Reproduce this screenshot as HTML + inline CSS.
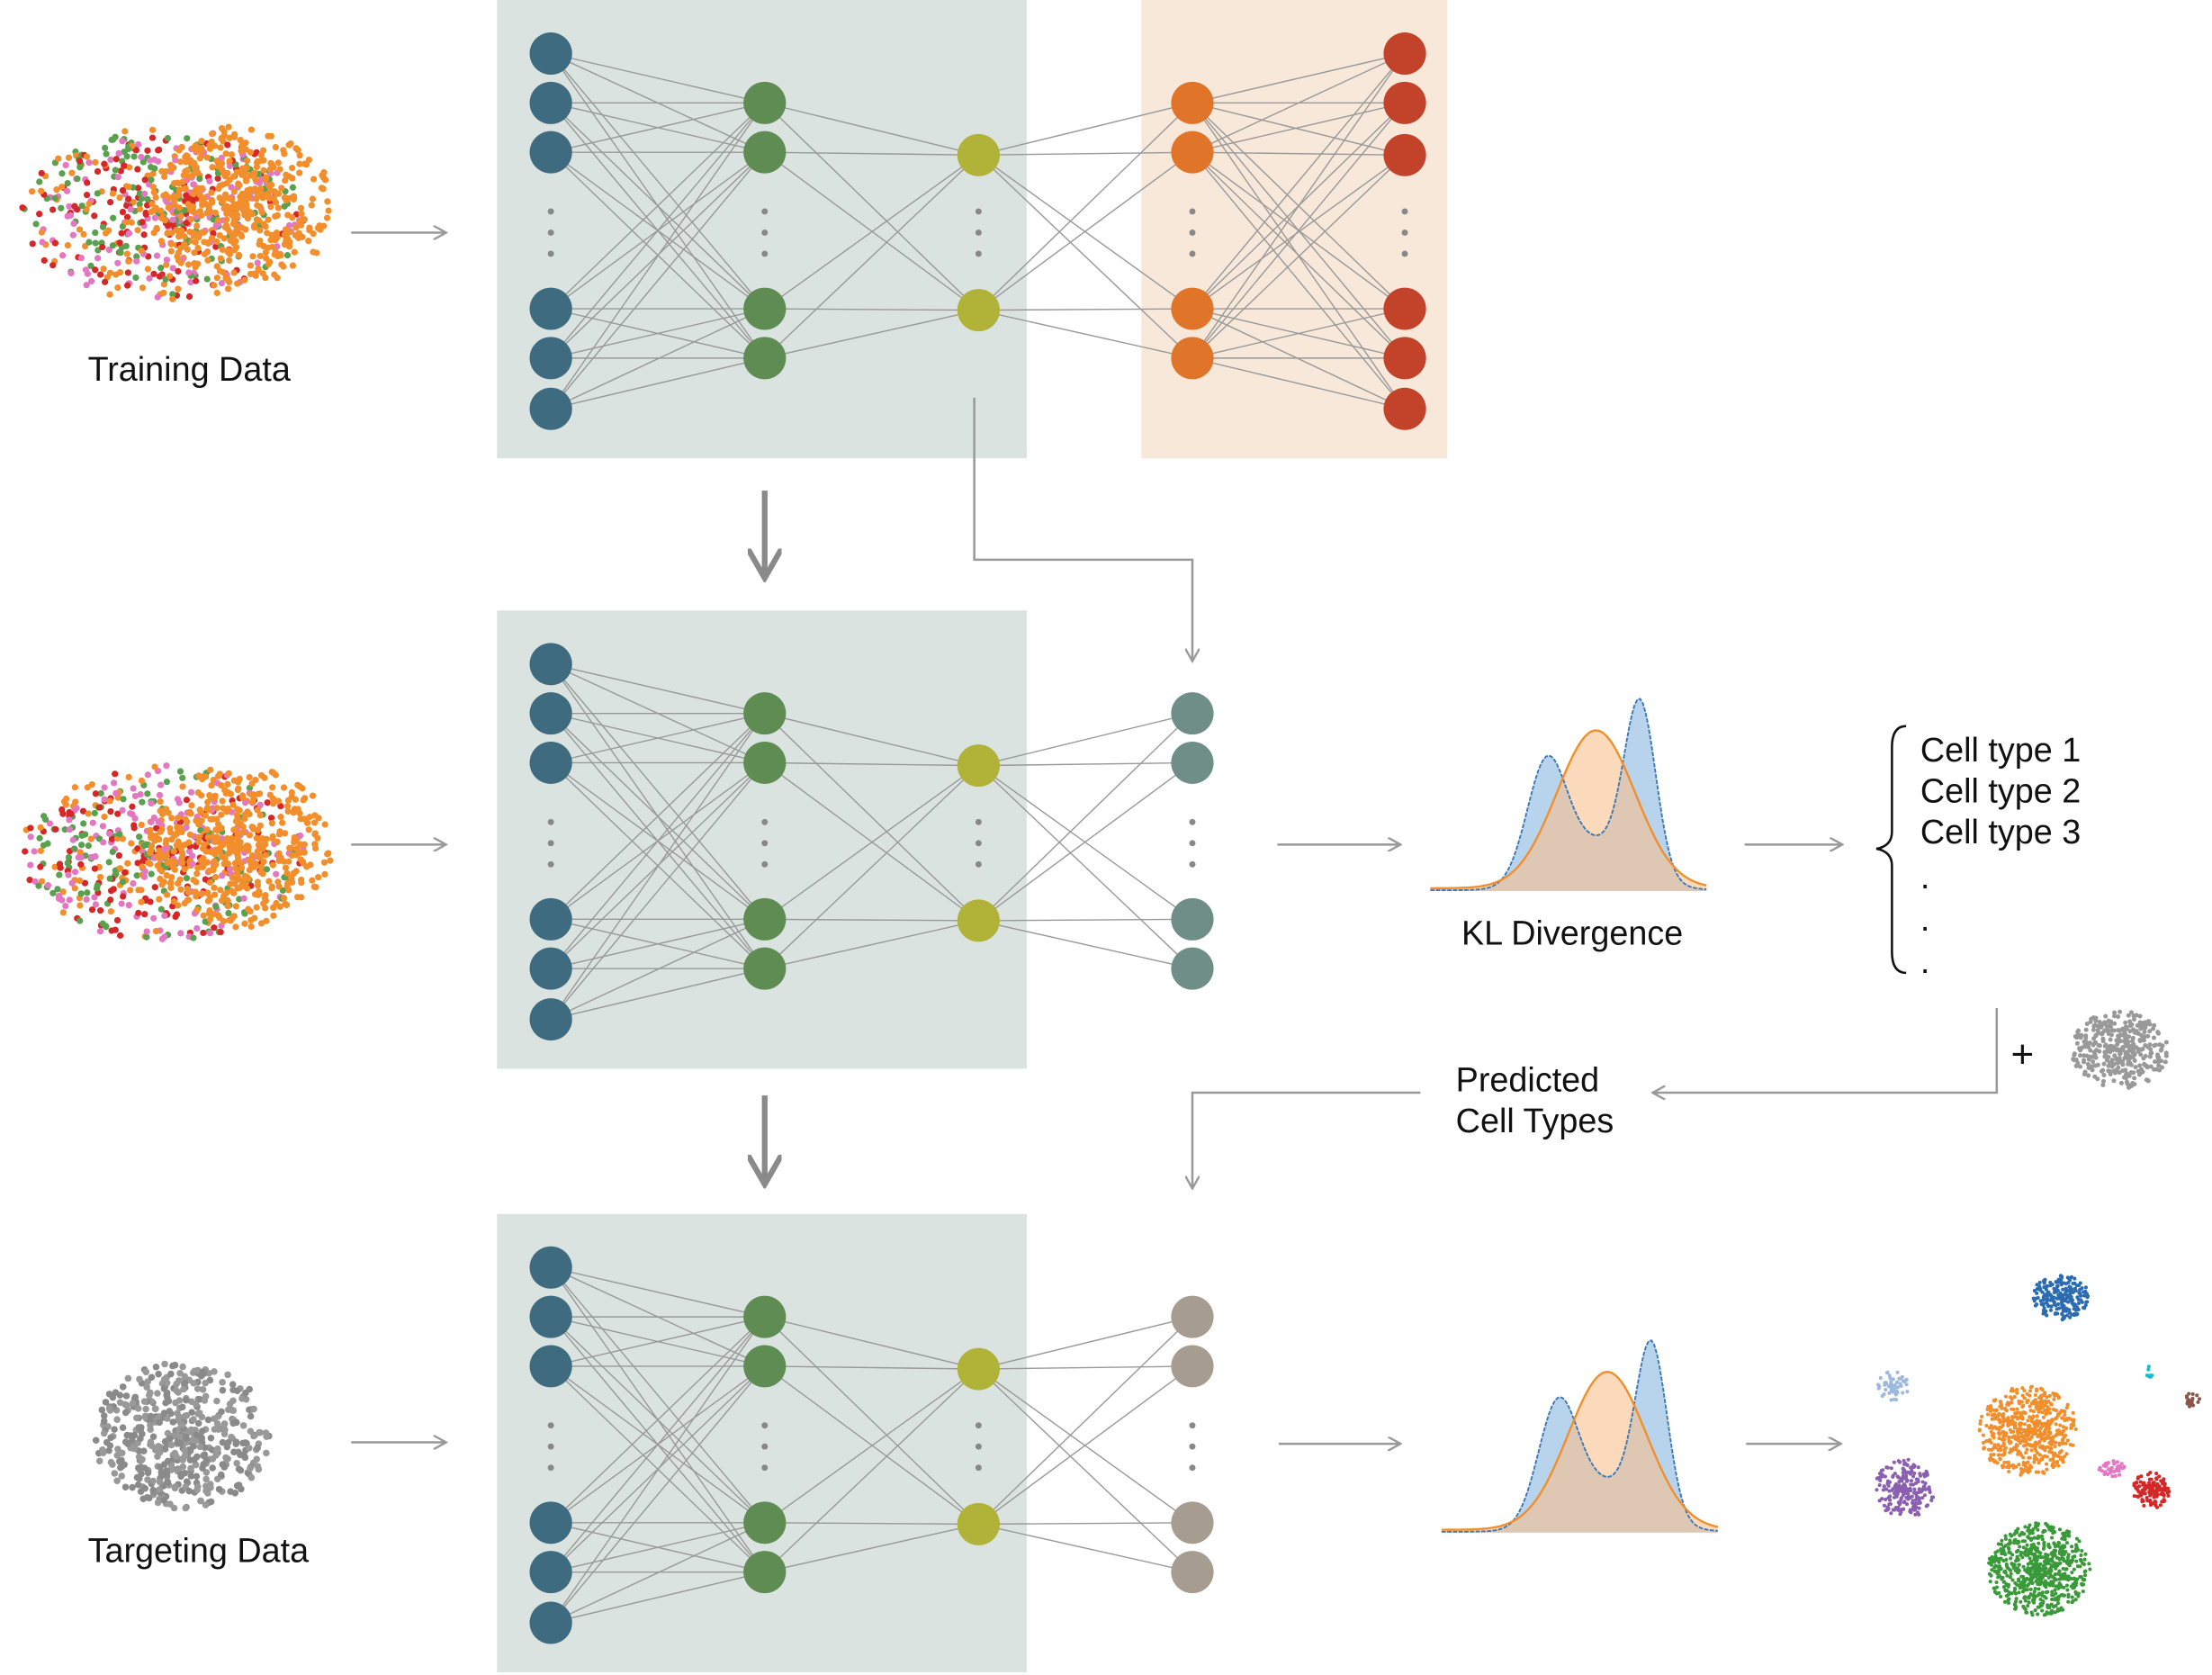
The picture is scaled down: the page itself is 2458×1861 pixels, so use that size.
<!DOCTYPE html>
<html><head><meta charset="utf-8"><style>html,body{margin:0;padding:0;background:#fff}svg{display:block}</style></head>
<body>
<svg id="s" xmlns="http://www.w3.org/2000/svg" width="2458" height="1861" viewBox="0 0 1562 1188" preserveAspectRatio="none" font-family="Liberation Sans, sans-serif">
<defs>
<marker id="ah" markerWidth="10" markerHeight="10" refX="9" refY="5" orient="auto" markerUnits="userSpaceOnUse"><path d="M0,0 L9,5 L0,10" fill="none" stroke="#999" stroke-width="1.5"/></marker>
<marker id="bh" markerWidth="24" markerHeight="24" refX="21" refY="12" orient="auto" markerUnits="userSpaceOnUse"><path d="M0,0 L21,12 L0,24" fill="none" stroke="#8a8a8a" stroke-width="4"/></marker>
</defs>
<rect x="351" y="0" width="374" height="325" fill="#dae3df"/>
<rect x="806" y="0" width="216" height="325" fill="#f7e8da"/>
<rect x="351" y="433" width="374" height="325" fill="#dae3df"/>
<rect x="351" y="861" width="374" height="325" fill="#dae3df"/>
<g id="net"></g>
<g id="pts"></g>
<g fill="none" stroke="#999" stroke-width="1.6">
<line x1="248" y1="165" x2="315" y2="165" marker-end="url(#ah)"/>
<line x1="248" y1="599" x2="315" y2="599" marker-end="url(#ah)"/>
<line x1="248" y1="1023" x2="315" y2="1023" marker-end="url(#ah)"/>
<line x1="902" y1="599" x2="989" y2="599" marker-end="url(#ah)"/>
<line x1="1232" y1="599" x2="1301" y2="599" marker-end="url(#ah)"/>
<line x1="903" y1="1024" x2="989" y2="1024" marker-end="url(#ah)"/>
<line x1="1233" y1="1024" x2="1300" y2="1024" marker-end="url(#ah)"/>
<polyline points="688,282 688,397 842,397 842,469" marker-end="url(#ah)"/>
<polyline points="1410,715 1410,775 1167,775" marker-end="url(#ah)"/>
<polyline points="1003,775 842,775 842,843" marker-end="url(#ah)"/>
</g>
<g stroke="#8a8a8a" stroke-width="4" fill="none">
<line x1="540" y1="348" x2="540" y2="410" marker-end="url(#bh)"/>
<line x1="540" y1="777" x2="540" y2="840" marker-end="url(#bh)"/>
</g>
<g id="kl"></g>
<g font-size="24" fill="#111">
<text x="62" y="270">Training Data</text>
<text x="62" y="1108">Targeting Data</text>
<text x="1032" y="670">KL Divergence</text>
<text x="1356" y="540">Cell type 1</text>
<text x="1356" y="569">Cell type 2</text>
<text x="1356" y="598">Cell type 3</text>
<text x="1356" y="630">.</text>
<text x="1356" y="660">.</text>
<text x="1356" y="690">.</text>
<text x="1028" y="774">Predicted</text>
<text x="1028" y="803">Cell Types</text>
<text x="1420" y="757" font-size="28">+</text>
</g>
<path d="M1346,515 Q1336,515 1336,530 L1336,590 Q1336,600 1325,602 Q1336,604 1336,614 L1336,675 Q1336,690 1346,690" fill="none" stroke="#111" stroke-width="1.6"/>
<script><![CDATA[
var NS="http://www.w3.org/2000/svg";
function el(p,t,a){var e=document.createElementNS(NS,t);for(var k in a)e.setAttribute(k,a[k]);p.appendChild(e);return e;}
var net=document.getElementById('net');
function panel(o,l4col,l5){
 var L=[[389,[38,73,108,219,254,290],'#3f6b80'],[540,[73,108,219,254],'#5f8c52'],[691,[110,220],'#b1b339'],[842,[73,108,219,254],l4col]];
 if(l5)L.push([992,[38,73,110,219,254,290],'#c3432a']);
 var g=el(net,'g',{stroke:'#999','stroke-width':'0.9'});
 for(var i=0;i<L.length-1;i++)for(var a of L[i][1])for(var b of L[i+1][1])el(g,'line',{x1:L[i][0],y1:a+o,x2:L[i+1][0],y2:b+o});
 for(var l of L){for(var y of l[1])el(net,'circle',{cx:l[0],cy:y+o,r:15,fill:l[2]});
  for(var d of [150,165,180])el(net,'circle',{cx:l[0],cy:d+o,r:2.2,fill:'#888'});}
}
panel(0,'#e07428',true);panel(433,'#6f8e85',false);panel(861,'#a69d90',false);
var seed=7;function R(){seed=(seed*16807)%2147483647;return seed/2147483647;}
var pts=document.getElementById('pts');
function cloud(cx,cy,rx,ry,n,cols,r){for(var i=0;i<n;i++){var a=R()*6.283,d=Math.pow(R(),0.7);var c=cols[Math.floor(R()*cols.length)];
 el(pts,'circle',{cx:cx+Math.cos(a)*d*rx,cy:cy+Math.sin(a)*d*ry,r:r,fill:c});}}
var mix=['#59a14f','#d62728','#e377c2','#f28e2b'];
function mixed(cx,cy){cloud(cx-15,cy,100,62,550,mix,2.3);cloud(cx+40,cy-5,65,58,400,['#f28e2b'],2.3);}
mixed(130,152);mixed(130,605);
cloud(128,1018,62,52,500,['#999','#8a8a8a'],2.4);cloud(1497,745,34,28,350,['#999'],1.6);
cloud(1455,920,20,16,220,['#2b6cb0'],1.3);cloud(1337,983,11,11,60,['#9db9e0'],1.3);
cloud(1432,1015,35,32,600,['#f28e2b'],1.3);cloud(1345,1056,21,21,220,['#8b5fb0'],1.3);
cloud(1492,1042,10,6,40,['#e377c2'],1.3);cloud(1519,1057,13,13,120,['#d62728'],1.3);
cloud(1440,1113,36,33,700,['#3a9a3a'],1.3);cloud(1548,993,6,5,20,['#8c564b'],1.3);cloud(1518,975,3,6,8,['#17becf'],1.3);
var kl=document.getElementById('kl');
function dist(x0,base,w){var b='',o='';for(var i=0;i<=100;i++){var t=i/100,x=x0+t*w;
 var ho=112*Math.exp(-Math.pow((t-0.6)/0.2,2))+2;
 var hb=80*Math.exp(-Math.pow((t-0.42)/0.1,2))+118*Math.exp(-Math.pow((t-0.76)/0.08,2))+0.3*ho;
 b+=(i?'L':'M')+x+','+(base-hb);o+=(i?'L':'M')+x+','+(base-ho);}
 el(kl,'path',{d:b+'L'+(x0+w)+','+base+'L'+x0+','+base+'Z',fill:'#9fc5e6',opacity:'0.75'});
 el(kl,'path',{d:o+'L'+(x0+w)+','+base+'L'+x0+','+base+'Z',fill:'#f8c08e',opacity:'0.6'});
 el(kl,'path',{d:b,fill:'none',stroke:'#3b78b5','stroke-width':'1.2','stroke-dasharray':'3,1'});
 el(kl,'path',{d:o,fill:'none',stroke:'#f28e2b','stroke-width':'1.5'});}
dist(1010,632,195);dist(1018,1087,195);
]]></script>
</svg>
</body></html>
